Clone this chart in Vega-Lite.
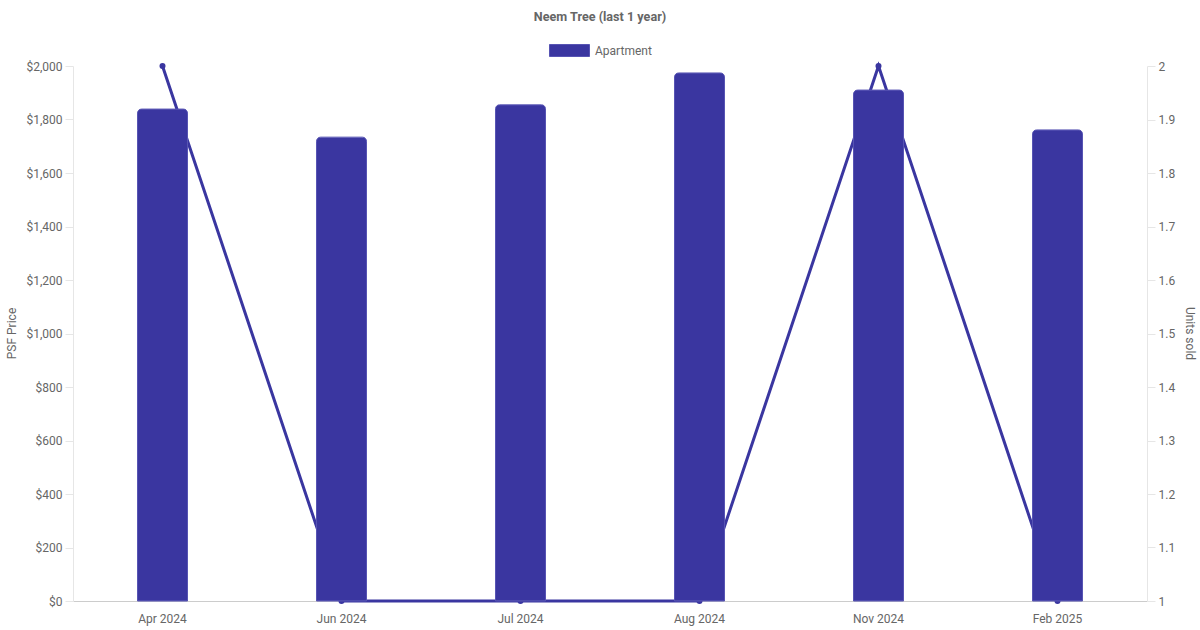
{
  "$schema": "https://vega.github.io/schema/vega-lite/v6.json",
  "autosize": {"type": "none"},
  "width": 1074,
  "height": 535,
  "padding": {"left": 73, "top": 66, "right": 53, "bottom": 29},
  "background": "white",
  "config": {
    "font": "Roboto",
    "view": {"stroke": null},
    "axis": {"labelColor": "#666666", "labelFontSize": 12, "titleColor": "#666666", "titleFontSize": 12, "titleFontWeight": "normal", "gridColor": "#e6e6e6", "domainColor": "#e6e6e6", "tickColor": "#e6e6e6"}
  },
  "title": {"text": "Neem Tree (last 1 year)", "fontSize": 12.6, "fontWeight": "bold", "color": "#666666", "anchor": "middle", "frame": "group", "offset": 6, "dx": -10},
  "data": {"values": [
    {"month": "Apr 2024", "psf": 1839, "units": 2, "type": "Apartment"},
    {"month": "Jun 2024", "psf": 1734, "units": 1, "type": "Apartment"},
    {"month": "Jul 2024", "psf": 1855, "units": 1, "type": "Apartment"},
    {"month": "Aug 2024", "psf": 1974, "units": 1, "type": "Apartment"},
    {"month": "Nov 2024", "psf": 1910, "units": 2, "type": "Apartment"},
    {"month": "Feb 2025", "psf": 1761, "units": 1, "type": "Apartment"}
  ]},
  "encoding": {
    "x": {"field": "month", "type": "nominal", "sort": null,
      "scale": {"paddingInner": 0, "paddingOuter": 0},
      "axis": {"title": null, "labelAngle": 0, "ticks": false, "domainColor": "#cccccc", "labelPadding": 12, "grid": false}}
  },
  "layer": [
    {
      "mark": {"type": "line", "color": "#3a36a0", "strokeWidth": 3, "point": {"filled": true, "size": 36, "color": "#3a36a0"}},
      "encoding": {
        "y": {"field": "units", "type": "quantitative",
          "scale": {"domain": [1, 2], "nice": false, "zero": false},
          "axis": {"orient": "right", "title": "Units sold", "format": ".2~f", "values": [1, 1.1, 1.2, 1.3, 1.4, 1.5, 1.6, 1.7, 1.8, 1.9, 2], "grid": false, "tickSize": 8, "labelPadding": 3, "titleX": 42, "titleY": 267, "titleBaseline": "middle", "titleAngle": 90}}
      }
    },
    {
      "mark": {"type": "bar", "size": 50, "cornerRadiusTopLeft": 4, "cornerRadiusTopRight": 4, "stroke": "#5754b3", "strokeWidth": 1},
      "encoding": {
        "y": {"field": "psf", "type": "quantitative",
          "scale": {"domain": [0, 2000], "nice": false},
          "axis": {"orient": "left", "title": "PSF Price", "format": "$,.0f", "values": [0, 200, 400, 600, 800, 1000, 1200, 1400, 1600, 1800, 2000], "tickSize": 8, "labelPadding": 3, "titleX": -62, "titleY": 267, "titleBaseline": "middle", "titleAngle": -90}},
        "fill": {"field": "type", "type": "nominal", "scale": {"range": ["#3a36a0"]},
          "legend": {"title": null, "orient": "none", "legendX": 476, "legendY": -36, "symbolType": "M-1,-0.3H1V0.3H-1Z", "symbolSize": 1600, "symbolStrokeColor": "#5754b3", "symbolStrokeWidth": 1, "labelColor": "#666666", "labelFontSize": 12, "labelOffset": 5}}
      }
    }
  ],
  "resolve": {"scale": {"y": "independent"}}
}
